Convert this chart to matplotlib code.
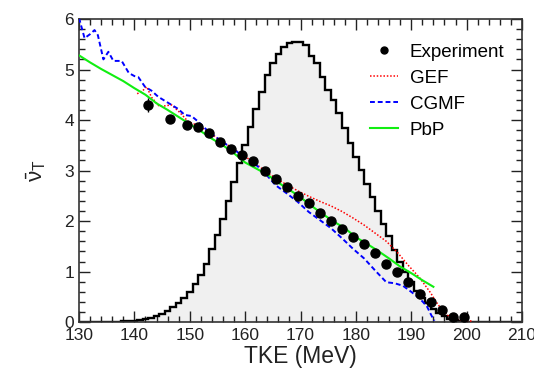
import numpy as np
import matplotlib.pyplot as plt
from matplotlib.lines import Line2D
from matplotlib.ticker import MultipleLocator

plt.rcParams['font.family'] = ['Liberation Sans', 'DejaVu Sans']
plt.rcParams['mathtext.fontset'] = 'custom'
plt.rcParams['mathtext.rm'] = 'Liberation Sans'
plt.rcParams['mathtext.it'] = 'Liberation Sans:italic'

# TKE yield histogram (arbitrary scale), 1 MeV bins centred on 130..210
hist_centers = list(range(130, 211))
hist_vals = [0, 0, 0, 0, 0.003, 0.005, 0.008, 0.01, 0.015, 0.02,
             0.03, 0.04, 0.06, 0.09, 0.13, 0.17, 0.23, 0.29, 0.37, 0.47,
             0.60, 0.75, 0.94, 1.15, 1.44, 1.72, 2.05, 2.40, 2.77, 3.15,
             3.50, 3.87, 4.22, 4.56, 4.90, 5.12, 5.31, 5.45, 5.52, 5.54,
             5.54, 5.49, 5.27, 5.12, 4.86, 4.59, 4.40, 4.13, 3.84, 3.54,
             3.27, 3.01, 2.73, 2.47, 2.19, 1.94, 1.70, 1.43, 1.20, 1.00,
             0.80, 0.62, 0.48, 0.37, 0.27, 0.18, 0.12, 0.07, 0.04, 0.02,
             0.01, 0, 0, 0, 0, 0, 0, 0, 0, 0, 0]

# experiment
exp_tke = [142.5, 146.5, 149.5, 151.5, 153.5, 155.5, 157.5, 159.5, 161.5, 163.5,
           165.5, 167.5, 169.5, 171.5, 173.5, 175.5, 177.5, 179.5, 181.5, 183.5,
           185.5, 187.5, 189.5, 191.5, 193.5, 195.5, 197.5, 199.5]
exp_nu = [4.29, 4.03, 3.91, 3.86, 3.74, 3.57, 3.43, 3.30, 3.18, 3.00,
          2.83, 2.67, 2.50, 2.35, 2.16, 2.00, 1.85, 1.69, 1.54, 1.36,
          1.16, 1.00, 0.79, 0.56, 0.39, 0.24, 0.11, 0.11]
exp_err = [0.14, 0.07, 0.05, 0.04, 0.03, 0.03, 0.03, 0.03, 0.03, 0.03,
           0.03, 0.03, 0.03, 0.03, 0.03, 0.03, 0.03, 0.03, 0.03, 0.03,
           0.03, 0.03, 0.03, 0.03, 0.03, 0.03, 0.03, 0.03]

# GEF
gef_tke = [140.5, 141.5, 142.2, 143.1, 144.5, 145.5, 146.7, 148.2, 149.7, 151.5,
           153.5, 155.5, 157.5, 159.5, 161.5, 163.5, 165.5, 167.5, 169.5, 171.5,
           173.5, 175.5, 177.5, 179.5, 181.5, 183.5, 185.5, 187.5, 189.5, 191.5,
           193.5, 194.5, 195.5, 196.5, 197.5, 199.0, 201.0]
gef_nu = [4.52, 4.58, 4.66, 4.45, 4.27, 4.28, 4.30, 4.15, 3.97, 3.89,
          3.76, 3.60, 3.46, 3.31, 3.17, 3.00, 2.85, 2.72, 2.60, 2.49,
          2.39, 2.30, 2.19, 2.06, 1.92, 1.76, 1.60, 1.38, 1.12, 0.88,
          0.58, 0.40, 0.25, 0.14, 0.08, 0.04, 0.02]

# CGMF
cgmf_tke = [130.0, 131.0, 132.0, 132.8, 133.4, 134.4, 135.3, 136.2, 137.7, 139.0,
            140.0, 140.7, 141.9, 143.1, 144.3, 145.5, 146.4, 147.9, 149.1, 150.3,
            151.5, 153.3, 155.5, 157.5, 159.5, 161.5, 163.5, 165.5, 167.5, 169.5,
            171.5, 173.5, 175.5, 177.5, 179.5, 181.5, 183.5, 185.5, 187.0, 188.5,
            190.0, 191.5, 192.8, 193.7, 194.2]
cgmf_nu = [6.02, 5.62, 5.70, 5.78, 5.68, 5.20, 5.35, 5.17, 5.17, 4.93,
           4.87, 4.85, 4.66, 4.58, 4.46, 4.38, 4.32, 4.22, 4.10, 4.08,
           3.97, 3.78, 3.60, 3.45, 3.30, 3.16, 2.96, 2.71, 2.55, 2.38,
           2.18, 2.02, 1.86, 1.66, 1.45, 1.26, 1.02, 0.79, 0.77, 0.72,
           0.60, 0.47, 0.32, 0.12, 0.03]

# PbP
pbp_tke = [130, 132, 134, 136, 138, 140, 142, 144, 146, 148,
           150, 152, 154, 156, 158, 160, 162, 164, 166, 168,
           170, 172, 174, 176, 178, 180, 182, 184, 186, 188,
           190, 192, 194]
pbp_nu = [5.28, 5.14, 5.01, 4.89, 4.77, 4.63, 4.50, 4.33, 4.20, 4.06,
          3.92, 3.78, 3.63, 3.50, 3.34, 3.16, 3.04, 2.92, 2.76, 2.62,
          2.47, 2.30, 2.14, 1.99, 1.86, 1.68, 1.55, 1.41, 1.26, 1.10,
          0.97, 0.83, 0.70]


def main():
    fig = plt.figure(figsize=(5.34, 3.72), dpi=100)
    ax = fig.add_axes([0.148, 0.134, 0.8295, 0.815])

    edges = np.append(np.array(hist_centers) - 0.5, hist_centers[-1] + 0.5)
    ax.stairs(hist_vals, edges, fill=True, color="#f0f0f0", zorder=1)
    ax.stairs(hist_vals, edges, color="black", lw=1.7, zorder=2)

    l_gef, = ax.plot(gef_tke, gef_nu, color="#ff0000", ls=(0, (1, 1.2)), lw=1.1, zorder=3)
    l_cgmf, = ax.plot(cgmf_tke, cgmf_nu, color="#0000ff", ls=(0, (2.5, 1.5)), lw=1.4, zorder=3)
    l_pbp, = ax.plot(pbp_tke, pbp_nu, color="#11ee11", lw=1.5, zorder=3)
    ax.errorbar(exp_tke, exp_nu, yerr=exp_err, fmt="o", color="black", ms=6.5,
                elinewidth=1, capsize=0, zorder=4)
    h_exp = Line2D([], [], ls="none", marker="o", color="black", ms=5)

    ax.set_xlim(130, 210)
    ax.set_ylim(0, 6)
    ax.xaxis.set_major_locator(MultipleLocator(10))
    ax.xaxis.set_minor_locator(MultipleLocator(2))
    ax.yaxis.set_major_locator(MultipleLocator(1))
    ax.yaxis.set_minor_locator(MultipleLocator(0.2))
    ax.tick_params(which="both", direction="in", top=True, right=True,
                   labelsize=12.5, colors="#222222", labelcolor="#222222")
    ax.tick_params(which="major", length=8, width=1)
    ax.tick_params(which="minor", length=4, width=1)
    ax.tick_params(axis="x", pad=4)
    for s in ax.spines.values():
        s.set_color("#333333")
        s.set_linewidth(1.2)

    ax.set_xlabel("TKE (MeV)", fontsize=16.5, color="#222222", labelpad=2)
    ax.set_ylabel(r"$\bar{\mathrm{\nu}}_{\mathrm{T}}$", fontsize=16, color="#222222", labelpad=12)

    ax.legend([h_exp, l_gef, l_cgmf, l_pbp], ["Experiment", "GEF", "CGMF", "PbP"],
              loc="upper right", bbox_to_anchor=(0.998, 0.975), frameon=False,
              fontsize=13.5, handlelength=1.5, handletextpad=0.6, labelspacing=0.48)

    fig.savefig("out.png", dpi=100)


if __name__ == "__main__":
    main()
